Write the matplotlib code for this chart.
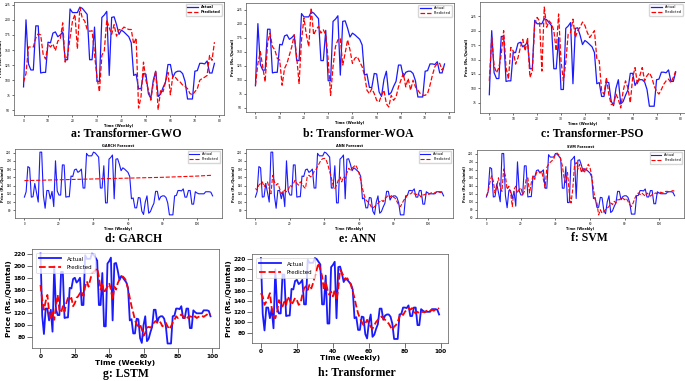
import numpy as np
import matplotlib
matplotlib.use('Agg')
import matplotlib.pyplot as plt
from matplotlib.ticker import MultipleLocator

# actual weekly price (Rs./Quintal), full test window used by GARCH / ANN / SVM
actual_weekly = [112, 125, 186, 183, 112, 113, 145, 123, 100, 221, 221, 116, 85, 128, 128, 108, 126,
                 89, 200, 127, 117, 117, 190, 190, 112, 113, 113,
                 163, 162, 178, 180, 172, 175, 180, 134, 134, 218,
                 212, 212, 212, 221, 219, 214, 209, 134, 134, 188,
                 98, 98, 204, 208, 214, 108, 204, 205, 192, 176,
                 183, 180, 176, 172, 162, 108, 110, 86, 86, 111,
                 110, 78, 70, 100, 115, 73, 77, 88, 97, 126,
                 126, 105, 113, 115, 115, 111, 98, 69, 69, 69,
                 115, 116, 128, 128, 127, 132, 112, 112, 128,
                 128, 95, 95, 125, 122, 120, 120, 120, 120, 125, 125, 125, 124, 115]

# predictions of the hybrid transformers (79 weeks)
pred_gwo = [97, 111, 155, 155, 155, 170, 177, 175, 143, 135, 160, 155, 160, 149, 165, 168, 195, 130, 141, 170,
            198, 209, 152, 220, 203, 198, 184, 181, 182, 143, 105, 81, 141, 149, 200, 187, 176, 192, 173, 184,
            183, 188, 186, 184, 184, 160, 170, 54, 73, 130, 100, 84, 67, 95, 116, 51, 84, 81, 97, 113,
            76, 108, 105, 100, 97, 92, 90, 86, 78, 76, 81, 86, 100, 103, 105, 108, 141, 133, 163]
pred_woa = [90, 129, 150, 123, 96, 165, 183, 159, 153, 138, 135, 90, 120, 129, 144, 159, 180, 141, 93, 171,
            210, 180, 159, 228, 180, 189, 195, 183, 189, 180, 135, 72, 123, 159, 171, 174, 126, 147, 171, 153,
            129, 138, 141, 132, 123, 108, 81, 75, 84, 75, 63, 60, 72, 81, 57, 51, 72, 63, 69, 87,
            99, 111, 87, 102, 81, 99, 87, 81, 75, 72, 72, 75, 90, 108, 123, 129, 129, 117, 125]
pred_pso = [113, 188, 139, 127, 136, 159, 200, 136, 116, 171, 165, 142, 153, 171, 185, 165, 188, 119, 130, 212,
            223, 217, 130, 241, 206, 217, 212, 200, 165, 229, 148, 113, 145, 194, 197, 220, 188, 200, 206, 215,
            209, 197, 188, 194, 200, 151, 148, 95, 90, 119, 90, 72, 72, 90, 81, 66, 95, 113, 101, 75,
            119, 136, 107, 122, 136, 113, 122, 127, 119, 104, 95, 90, 98, 107, 113, 116, 110, 119, 130]

# baseline forecasts (110 weeks)
garch_weeks = [0, 20, 40, 60, 80, 100, 109]
garch_pred = [152, 154, 156, 158, 160, 163, 165]
pred_ann = [133, 129, 141, 145, 149, 137, 145, 149, 133, 120, 165, 149, 141, 145, 133, 120, 125, 129, 125, 129,
            141, 137, 145, 153, 145, 141, 149, 145, 137, 133, 161, 165, 161, 165, 174, 178, 186, 194, 202, 205,
            206, 202, 190, 174, 158, 141, 133, 141, 153, 161, 149, 161, 157, 170, 182, 178, 182, 186, 190, 182,
            170, 153, 133, 117, 105, 101, 97, 89, 85, 89, 93, 97, 101, 105, 101, 109, 112, 117, 112, 117,
            112, 109, 101, 93, 89, 97, 105, 109, 117, 120, 120, 125, 120, 118, 120, 117, 112, 117, 118, 120,
            118, 120, 123, 120, 123, 125, 125, 123, 125, 123]
pred_svm = [114, 126, 148, 165, 152, 122, 139, 160, 135, 126, 182, 165, 131, 139, 122, 88, 131, 139, 122, 131,
            135, 118, 126, 156, 160, 122, 148, 165, 156, 173, 177, 173, 177, 156, 135, 186, 194, 199, 203, 207,
            220, 222, 217, 207, 190, 160, 148, 173, 122, 97, 131, 190, 199, 182, 194, 173, 186, 173, 182, 194,
            186, 165, 131, 105, 97, 67, 80, 71, 75, 80, 84, 88, 97, 93, 101, 97, 105, 105, 109, 109,
            105, 109, 101, 93, 88, 97, 109, 118, 122, 118, 122, 118, 114, 122, 118, 114, 118, 120, 122, 120,
            122, 124, 122, 124, 126, 126, 124, 126, 128, 126]

# deep models (100 weeks)
pred_lstm = [168, 143, 126, 140, 151, 123, 109, 121, 109, 132, 151, 126, 121, 132, 123, 137, 146, 143, 146, 132,
             137, 146, 149, 154, 157, 149, 165, 174, 165, 177, 188, 190, 193, 196, 182, 160, 171, 154, 160, 165,
             171, 160, 143, 165, 160, 171, 177, 182, 182, 179, 174, 160, 146, 132, 121, 109, 101, 98, 101, 93,
             82, 87, 96, 97, 96, 98, 104, 107, 104, 107, 104, 98, 101, 104, 98, 93, 98, 104, 109, 115,
             112, 115, 118, 115, 112, 115, 112, 115, 114, 112, 115, 112, 114, 115, 116, 114, 116, 118, 120, 118]
pred_transformer = [155, 149, 133, 139, 146, 155, 127, 111, 108, 120, 142, 133, 130, 139, 133, 149, 142, 133, 139, 146,
                    142, 133, 136, 152, 164, 168, 161, 171, 164, 174, 187, 199, 212, 199, 187, 161, 177, 161, 152, 158,
                    149, 161, 142, 164, 199, 193, 187, 180, 183, 177, 171, 158, 146, 130, 117, 108, 101, 95, 98, 105,
                    98, 92, 88, 95, 101, 105, 108, 111, 108, 105, 101, 98, 92, 86, 92, 95, 101, 111, 117, 114,
                    120, 124, 127, 124, 127, 120, 117, 120, 117, 119, 120, 119, 122, 120, 122, 124, 122, 124, 125, 127]

px_w, px_h = 685, 381


def box(left, top, right, bottom):
    # pixel box -> figure fraction
    return [left / px_w, 1 - bottom / px_h, (right - left) / px_w, (bottom - top) / px_h]


def draw_panel(ax, actual, pred, tick_fs, lab_fs, lw, loc, x_pred=None, title=None,
               step_x=10, step_y=25, bold_ticks=False):
    ax.plot(np.arange(len(actual)), actual, color='#1a1aff', lw=lw, label='Actual')
    if x_pred is None:
        x_pred = np.arange(len(pred))
    ax.plot(x_pred, pred, color='red', ls='--', lw=lw, label='Predicted')
    ax.xaxis.set_major_locator(MultipleLocator(step_x))
    ax.yaxis.set_major_locator(MultipleLocator(step_y))
    ax.tick_params(labelsize=tick_fs, length=tick_fs * 0.8, width=0.4, pad=1)
    if bold_ticks:
        for t in ax.get_xticklabels() + ax.get_yticklabels():
            t.set_fontweight('bold')
    ax.set_xlabel('Time (Weekly)', fontsize=lab_fs, fontweight='bold', labelpad=1)
    ax.set_ylabel('Price (Rs./Quintal)', fontsize=lab_fs, fontweight='bold', labelpad=1)
    if title:
        ax.set_title(title, fontsize=lab_fs, fontweight='bold', pad=1.5)
    for s in ax.spines.values():
        s.set_linewidth(0.5)
        s.set_color('#555555')
    ax.legend(loc=loc, fontsize=lab_fs, handlelength=3, borderpad=0.4, labelspacing=0.3)


def caption(x, y, text):
    fig.text(x / px_w, 1 - y / px_h, text, ha='center', va='center', fontsize=8.5,
             fontweight='bold', family='Liberation Serif')


fig = plt.figure(figsize=(6.85, 3.81), dpi=100)

top_actual = actual_weekly[17:96]
ax_a = fig.add_axes(box(14, 2, 224, 115))
draw_panel(ax_a, top_actual, pred_gwo, 2.2, 2.6, 0.9, 'upper right')
for t in ax_a.get_legend().get_texts():
    t.set_fontweight('bold')
ax_b = fig.add_axes(box(246, 3, 454, 112))
draw_panel(ax_b, top_actual, pred_woa, 2.2, 2.6, 0.9, 'upper right')
ax_c = fig.add_axes(box(480, 2, 685, 113))
draw_panel(ax_c, top_actual, pred_pso, 2.2, 2.6, 0.9, 'upper right')

ax_d = fig.add_axes(box(15, 149, 222, 218))
draw_panel(ax_d, actual_weekly, garch_pred, 2.0, 2.5, 0.8, 'upper right', x_pred=garch_weeks,
           title='GARCH Forecast', step_x=20, step_y=20)
ax_e = fig.add_axes(box(246, 149, 453, 218))
draw_panel(ax_e, actual_weekly, pred_ann, 2.0, 2.5, 0.8, 'upper right', title='ANN Forecast', step_x=20, step_y=20)
ax_f = fig.add_axes(box(477, 150, 684, 218))
draw_panel(ax_f, actual_weekly, pred_svm, 2.0, 2.5, 0.8, 'upper right', title='SVM Forecast', step_x=20, step_y=20)

ax_g = fig.add_axes(box(32, 249, 219, 348))
draw_panel(ax_g, actual_weekly[10:], pred_lstm, 4.2, 5.3, 1.3, 'upper left', step_x=20, step_y=20, bold_ticks=True)
ax_h = fig.add_axes(box(252, 254, 448, 343))
draw_panel(ax_h, actual_weekly[10:], pred_transformer, 4.2, 5.3, 1.3, 'upper left', step_x=20, step_y=20,
           bold_ticks=True)
for ax in (ax_g, ax_h):
    ax.get_legend().get_frame().set_linewidth(0.5)
    for t in ax.get_legend().get_texts():
        t.set_fontsize(4)

caption(126, 134, 'a: Transformer-GWO')
caption(358, 134, 'b: Transformer-WOA')
caption(592, 134, 'c: Transformer-PSO')
caption(134, 239, 'd: GARCH')
caption(357, 239, 'e: ANN')
caption(589, 238, 'f: SVM')
caption(126, 374, 'g: LSTM')
caption(357, 373, 'h: Transformer')

fig.savefig('out.png', dpi=100)
